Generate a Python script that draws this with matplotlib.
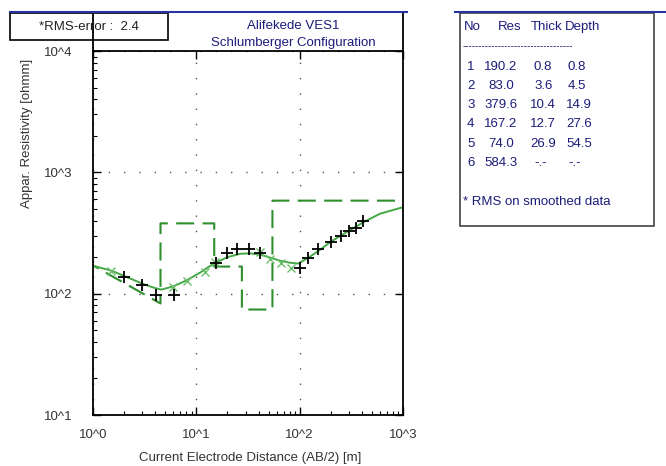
import matplotlib
matplotlib.use("Agg")
import matplotlib.pyplot as plt
from matplotlib.lines import Line2D
from matplotlib.patches import Rectangle

plt.rcParams['font.family'] = ['Liberation Sans', 'DejaVu Sans']
plt.rcParams['lines.scale_dashes'] = False

# ---- data ----
title_lines = ["Alifekede VES1", "Schlumberger Configuration"]
rms_text = "*RMS-error :  2.4"

layer_no = [1, 2, 3, 4, 5, 6]
layer_res = [190.2, 83.0, 379.6, 167.2, 74.0, 584.3]
layer_thick = ["0.8", "3.6", "10.4", "12.7", "26.9", "-.-"]
layer_depth = ["0.8", "4.5", "14.9", "27.6", "54.5", "-.-"]
depth_vals = [0.8, 4.5, 14.9, 27.6, 54.5]

ab2_obs = [2.0, 3.0, 4.1, 6.1, 15.4, 20, 25, 32, 41, 100, 121, 152, 200, 252, 303, 352, 414]
rho_obs = [136, 118, 97, 97, 179, 215, 232, 232, 215, 163, 197, 232, 266, 296, 327, 351, 394]

ab2_smooth = [1.5, 6.0, 8.1, 12.2, 15.2, 41, 52, 66, 82]
rho_smooth = [155, 113, 128, 150, 181, 219, 194, 180, 163]

ab2_calc = [1.0, 1.5, 2.0, 3.0, 4.0, 4.6, 6.0, 8.1, 11, 14.6, 20, 26.5, 33, 41.4, 52,
            64.6, 80, 97, 126, 160, 197, 300, 414, 600, 1000]
rho_calc = [170, 155, 140, 121, 111, 108, 115, 129, 150, 176, 200, 213, 215, 210, 198,
            187, 180, 177, 202, 232, 266, 330, 388, 456, 516]

xticks = [1, 10, 100, 1000]
xticklabels = ["10^0", "10^1", "10^2", "10^3"]
yticks = [10, 100, 1000, 10000]
yticklabels = ["10^1", "10^2", "10^3", "10^4"]
xlabel = "Current Electrode Distance (AB/2) [m]"
ylabel = "Appar. Resistivity [ohmm]"

# model line built from the layer table: first segment, then vertical/horizontal steps
model_x = [depth_vals[0], depth_vals[1]]
model_y = [layer_res[0], layer_res[1]]
for i in range(1, len(depth_vals)):
    nxt = depth_vals[i + 1] if i + 1 < len(depth_vals) else 1000
    model_x += [depth_vals[i], nxt]
    model_y += [layer_res[i + 1], layer_res[i + 1]]

# ---- figure ----
W, H = 666, 466
fig = plt.figure(figsize=(W / 100, H / 100), dpi=100)

def fx(px):
    return px / W

def fy(py):
    return 1 - py / H

L, R, T, B = 93, 403, 51, 415
ax = fig.add_axes([fx(L), fy(B), fx(R) - fx(L), fy(T) - fy(B)])
ax.set_xscale('log')
ax.set_yscale('log')
ax.set_xlim(1, 1000)
ax.set_ylim(10, 10000)

navy = '#1c1c7a'
green_curve = '#46a846'
green_model = '#2f8f2f'

ax.plot(model_x, model_y, color=green_model, lw=1.5, linestyle=(0, (13, 6)))
ax.plot(ab2_calc, rho_calc, color=green_curve, lw=1.4)
ax.plot(ab2_smooth, rho_smooth, linestyle='none', marker='x', color='#6cbf6c', ms=6, mew=1.0)
ax.plot(ab2_obs, rho_obs, linestyle='none', marker='+', color='black', ms=9, mew=1.3)

ax.grid(which='major', linestyle=(0, (1, 10)), color='#555555', lw=1.0)
ax.set_xticks(xticks)
ax.set_xticklabels(xticklabels)
ax.set_yticks(yticks)
ax.set_yticklabels(yticklabels)
ax.tick_params(which='both', direction='in', top=True, right=True, labelsize=9.5,
               colors='black', labelcolor='#333333')
ax.tick_params(which='major', length=6, width=1.0)
ax.tick_params(which='minor', length=3, width=0.8, top=False, right=False)
ax.tick_params(axis='x', which='major', pad=10)
ax.tick_params(axis='y', which='major', pad=15)
for s in ax.spines.values():
    s.set_linewidth(1.3)
    s.set_color('black')

fig.text(fx(250), fy(458), xlabel, ha='center', va='center', fontsize=9.5, color='#333333')
fig.text(fx(27), fy(133), ylabel, ha='center', va='center', rotation=90, fontsize=9.5, color='#333333')

# frame above axes
fig.add_artist(Line2D([fx(L), fx(L)], [fy(12), fy(T)], color='black', lw=1.3, transform=fig.transFigure))
fig.add_artist(Line2D([fx(R), fx(R)], [fy(12), fy(T)], color='black', lw=1.3, transform=fig.transFigure))
fig.add_artist(Line2D([fx(10), fx(407)], [fy(12), fy(12)], color='#2633a0', lw=1.5, transform=fig.transFigure))

# RMS box
fig.add_artist(Rectangle((fx(10), fy(40)), fx(168) - fx(10), fy(13) - fy(40),
                         facecolor='white', edgecolor='black', lw=1.2, transform=fig.transFigure))
fig.text(fx(89), fy(27), rms_text, ha='center', va='center', fontsize=9.5, color='#222222')

fig.text(fx(293), fy(26), title_lines[0], ha='center', va='center', fontsize=9.5, color=navy)
fig.text(fx(293), fy(43), title_lines[1], ha='center', va='center', fontsize=9.5, color=navy)

# right info panel
fig.add_artist(Rectangle((fx(460), fy(226)), fx(654) - fx(460), fy(13) - fy(226),
                         facecolor='white', edgecolor='#444444', lw=1.2, transform=fig.transFigure))
fig.add_artist(Line2D([fx(455), fx(666)], [fy(12), fy(12)], color='#2633a0', lw=1.5, transform=fig.transFigure))

fs = 9.5
fig.text(fx(464), fy(27), "No", ha='left', va='center', fontsize=fs, color=navy)
fig.text(fx(498), fy(27), "Res", ha='left', va='center', fontsize=fs, color=navy)
fig.text(fx(531), fy(27), "Thick", ha='left', va='center', fontsize=fs, color=navy)
fig.text(fx(565), fy(27), "Depth", ha='left', va='center', fontsize=fs, color=navy)
fig.text(fx(463), fy(46), "-" * 34, ha='left', va='center', fontsize=7, color=navy)

row_y = [67, 86, 105, 124, 144, 163]
for i in range(len(layer_no)):
    y = fy(row_y[i])
    res_s = f"{layer_res[i]:.1f}"
    fig.text(fx(467), y, str(layer_no[i]), ha='left', va='center', fontsize=fs, color=navy)
    fig.text(fx(484 + (5 - len(res_s)) * 4), y, res_s, ha='left', va='center', fontsize=fs, color=navy)
    t = layer_thick[i]
    fig.text(fx(530 + (4 - len(t)) * 4), y, t, ha='left', va='center', fontsize=fs, color=navy)
    d = layer_depth[i]
    fig.text(fx(566 + (4 - len(d)) * 2), y, d, ha='left', va='center', fontsize=fs, color=navy)

fig.text(fx(463), fy(202), "* RMS on smoothed data", ha='left', va='center', fontsize=fs, color=navy)

fig.savefig("out.png", dpi=100, facecolor='white')
